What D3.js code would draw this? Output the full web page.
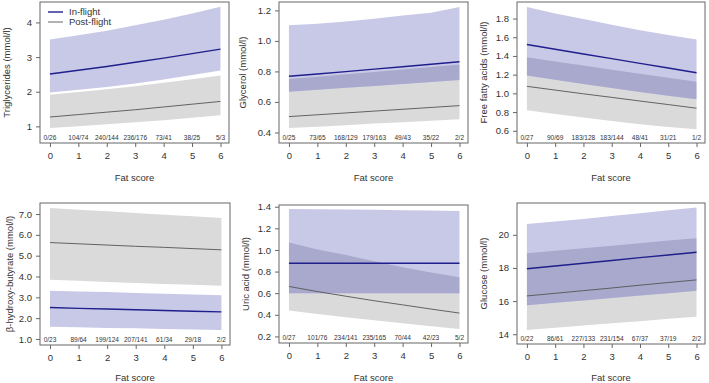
<!DOCTYPE html>
<html>
<head>
<meta charset="utf-8">
<script src="https://cdn.jsdelivr.net/npm/d3@7"></script>
<style>
  body { margin: 0; background: #fff; }
  text { font-family: "Liberation Sans", Arial, sans-serif; fill: #333; }
</style>
</head>
<body>
<svg id="chart"></svg>
<script>
// Six panels: metabolite vs fat score, in-flight vs post-flight, with CI bands

const chartWidth = 709;
const chartHeight = 383;

const fatScores = [0, 1, 2, 3, 4, 5, 6];
const seriesNames = ["In-flight", "Post-flight"];

// Triglycerides
const trigInMean = [2.51, 2.62, 2.73, 2.85, 2.97, 3.10, 3.23];
const trigInUpper = [3.51, 3.63, 3.76, 3.92, 4.08, 4.26, 4.45];
const trigInLower = [1.98, 2.06, 2.14, 2.24, 2.35, 2.48, 2.61];
const trigPostMean = [1.27, 1.34, 1.41, 1.48, 1.56, 1.64, 1.72];
const trigPostUpper = [1.91, 1.99, 2.07, 2.16, 2.26, 2.36, 2.47];
const trigPostLower = [0.95, 1.00, 1.06, 1.12, 1.18, 1.25, 1.32];
const trigCounts = ["0/26", "104/74", "240/144", "236/176", "73/41", "38/25", "5/3"];

// Glycerol
const glyInMean = [0.768, 0.783, 0.799, 0.815, 0.831, 0.847, 0.863];
const glyInUpper = [1.102, 1.113, 1.128, 1.146, 1.167, 1.185, 1.222];
const glyInLower = [0.667, 0.680, 0.693, 0.705, 0.718, 0.731, 0.744];
const glyPostMean = [0.504, 0.516, 0.528, 0.540, 0.552, 0.564, 0.576];
const glyPostUpper = [0.750, 0.765, 0.781, 0.797, 0.813, 0.829, 0.846];
const glyPostLower = [0.429, 0.438, 0.448, 0.458, 0.467, 0.477, 0.487];
const glyCounts = ["0/25", "73/65", "168/129", "179/163", "49/43", "35/22", "2/2"];

// Free fatty acids
const ffaInMean = [1.523, 1.472, 1.421, 1.371, 1.321, 1.271, 1.221];
const ffaInUpper = [1.924, 1.855, 1.795, 1.735, 1.675, 1.625, 1.576];
const ffaInLower = [1.190, 1.145, 1.100, 1.057, 1.015, 0.975, 0.937];
const ffaPostMean = [1.075, 1.035, 0.995, 0.957, 0.918, 0.880, 0.841];
const ffaPostUpper = [1.385, 1.340, 1.297, 1.253, 1.210, 1.167, 1.125];
const ffaPostLower = [0.820, 0.780, 0.742, 0.705, 0.670, 0.640, 0.615];
const ffaCounts = ["0/27", "90/69", "183/128", "183/144", "48/41", "31/21", "1/2"];

// beta-hydroxy-butyrate
const bhbInMean = [2.51, 2.47, 2.44, 2.40, 2.37, 2.33, 2.30];
const bhbInUpper = [3.32, 3.28, 3.25, 3.21, 3.17, 3.13, 3.10];
const bhbInLower = [1.59, 1.56, 1.53, 1.51, 1.48, 1.46, 1.43];
const bhbPostMean = [5.63, 5.57, 5.51, 5.45, 5.40, 5.34, 5.28];
const bhbPostUpper = [7.29, 7.21, 7.13, 7.05, 6.97, 6.89, 6.81];
const bhbPostLower = [3.84, 3.79, 3.74, 3.69, 3.64, 3.60, 3.55];
const bhbCounts = ["0/23", "89/64", "199/124", "207/141", "61/34", "29/18", "2/2"];

// Uric acid
const uricInMean = [0.877, 0.877, 0.877, 0.877, 0.877, 0.877, 0.877];
const uricInUpper = [1.379, 1.377, 1.374, 1.371, 1.368, 1.364, 1.360];
const uricInLower = [0.600, 0.600, 0.600, 0.600, 0.600, 0.600, 0.600];
const uricPostMean = [0.662, 0.615, 0.572, 0.530, 0.492, 0.453, 0.416];
const uricPostUpper = [1.068, 1.005, 0.954, 0.895, 0.840, 0.792, 0.748];
const uricPostLower = [0.440, 0.408, 0.378, 0.350, 0.322, 0.295, 0.268];
const uricCounts = ["0/27", "101/76", "234/141", "235/165", "70/44", "42/23", "5/2"];

// Glucose
const gluInMean = [17.95, 18.12, 18.28, 18.45, 18.62, 18.78, 18.95];
const gluInUpper = [20.65, 20.80, 20.96, 21.13, 21.30, 21.48, 21.65];
const gluInLower = [15.75, 15.90, 16.04, 16.18, 16.33, 16.48, 16.62];
const gluPostMean = [16.31, 16.47, 16.63, 16.79, 16.96, 17.12, 17.28];
const gluPostUpper = [18.89, 19.04, 19.19, 19.34, 19.49, 19.65, 19.80];
const gluPostLower = [14.26, 14.39, 14.52, 14.66, 14.79, 14.93, 15.06];
const gluCounts = ["0/22", "86/61", "227/133", "231/154", "67/37", "37/19", "2/2"];

const panels = [
    { label: "Triglycerides (mmol/l)", box: [40, 229, 2, 143], yDomain: [0.52, 4.59], yTicks: [1, 2, 3, 4], fmt: "d", labelOff: 33,
      inMean: trigInMean, inUpper: trigInUpper, inLower: trigInLower, postMean: trigPostMean, postUpper: trigPostUpper, postLower: trigPostLower, counts: trigCounts, legend: true },
    { label: "Glycerol (mmol/l)", box: [279, 468, 2, 143], yDomain: [0.331, 1.255], yTicks: [0.4, 0.6, 0.8, 1.0, 1.2], fmt: ".1f", labelOff: 36,
      inMean: glyInMean, inUpper: glyInUpper, inLower: glyInLower, postMean: glyPostMean, postUpper: glyPostUpper, postLower: glyPostLower, counts: glyCounts },
    { label: "Free fatty acids (mmol/l)", box: [517, 705, 2, 143], yDomain: [0.469, 1.977], yTicks: [0.6, 0.8, 1.0, 1.2, 1.4, 1.6, 1.8], fmt: ".1f", labelOff: 33,
      inMean: ffaInMean, inUpper: ffaInUpper, inLower: ffaInLower, postMean: ffaPostMean, postUpper: ffaPostUpper, postLower: ffaPostLower, counts: ffaCounts },
    { label: "β-hydroxy-butyrate (mmol/l)", box: [40, 230, 203, 345], yDomain: [0.71, 7.53], yTicks: [1, 2, 3, 4, 5, 6, 7], fmt: ".1f", labelOff: 30,
      inMean: bhbInMean, inUpper: bhbInUpper, inLower: bhbInLower, postMean: bhbPostMean, postUpper: bhbPostUpper, postLower: bhbPostLower, counts: bhbCounts },
    { label: "Uric acid (mmol/l)", box: [279, 468, 205, 343], yDomain: [0.139, 1.416], yTicks: [0.2, 0.4, 0.6, 0.8, 1.0, 1.2, 1.4], fmt: ".1f", labelOff: 33,
      inMean: uricInMean, inUpper: uricInUpper, inLower: uricInLower, postMean: uricPostMean, postUpper: uricPostUpper, postLower: uricPostLower, counts: uricCounts },
    { label: "Glucose (mmol/l)", box: [517, 705, 203, 344], yDomain: [13.41, 21.92], yTicks: [14, 16, 18, 20], fmt: "d", labelOff: 33,
      inMean: gluInMean, inUpper: gluInUpper, inLower: gluInLower, postMean: gluPostMean, postUpper: gluPostUpper, postLower: gluPostLower, counts: gluCounts }
];

const inBand = "#c8c8e7";
const overlapBand = "#a9a9cd";
const postBand = "#dadada";
const inLine = "#1f1f8c";
const postLine = "#555555";
const axisColor = "#666";

const svg = d3.select("#chart")
    .attr("width", chartWidth)
    .attr("height", chartHeight);

panels.forEach((p, i) => {
    const [x0, x1, y0, y1] = p.box;
    const x = d3.scaleLinear().domain([-0.35, 6.3]).range([x0, x1]);
    const y = d3.scaleLinear().domain(p.yDomain).range([y1, y0]);

    const g = svg.append("g");

    const band = (lo, hi) => d3.area()
        .x((d, j) => x(fatScores[j]))
        .y0((d, j) => y(lo[j]))
        .y1((d, j) => y(hi[j]));
    const line = vals => d3.line()
        .x((d, j) => x(fatScores[j]))
        .y((d, j) => y(vals[j]));

    // grey (post-flight) band
    g.append("path").datum(fatScores)
        .attr("fill", postBand)
        .attr("d", band(p.postLower, p.postUpper));

    // blue (in-flight) band
    g.append("path").datum(fatScores)
        .attr("fill", inBand)
        .attr("d", band(p.inLower, p.inUpper));

    // overlap: blue band clipped by grey band
    const clipId = "clip" + i;
    g.append("clipPath").attr("id", clipId)
        .append("path").datum(fatScores)
        .attr("d", band(p.postLower, p.postUpper));
    g.append("path").datum(fatScores)
        .attr("clip-path", `url(#${clipId})`)
        .attr("fill", overlapBand)
        .attr("d", band(p.inLower, p.inUpper));

    g.append("path").datum(fatScores)
        .attr("fill", "none")
        .attr("stroke", postLine)
        .attr("stroke-width", 0.9)
        .attr("d", line(p.postMean));

    g.append("path").datum(fatScores)
        .attr("fill", "none")
        .attr("stroke", inLine)
        .attr("stroke-width", 1.4)
        .attr("d", line(p.inMean));

    // frame
    g.append("rect")
        .attr("x", x0).attr("y", y0)
        .attr("width", x1 - x0).attr("height", y1 - y0)
        .attr("fill", "none")
        .attr("stroke", axisColor)
        .attr("stroke-width", 1);

    // counts along bottom
    g.selectAll(".count")
        .data(p.counts)
        .join("text")
        .attr("class", "count")
        .attr("transform", (d, j) => `translate(${x(fatScores[j])}, ${y1 - 3}) scale(0.82, 1)`)
        .attr("text-anchor", "middle")
        .attr("font-size", "8px")
        .text(d => d);

    // axes
    const xAxis = d3.axisBottom(x).tickValues(fatScores).tickSize(4).tickPadding(5).tickFormat(d3.format("d"));
    const xg = g.append("g")
        .attr("transform", `translate(0, ${y1})`)
        .call(xAxis);
    xg.select(".domain").remove();
    xg.selectAll("line").attr("stroke", axisColor);
    xg.selectAll("text").attr("font-size", "9.5px").attr("fill", "#333")
        .attr("font-family", "Liberation Sans, Arial, sans-serif");

    const yAxis = d3.axisLeft(y).tickValues(p.yTicks).tickSize(4).tickPadding(4).tickFormat(d3.format(p.fmt));
    const yg = g.append("g")
        .attr("transform", `translate(${x0}, 0)`)
        .call(yAxis);
    yg.select(".domain").remove();
    yg.selectAll("line").attr("stroke", axisColor);
    yg.selectAll("text").attr("font-size", "9.5px").attr("fill", "#333")
        .attr("font-family", "Liberation Sans, Arial, sans-serif");

    g.append("text")
        .attr("x", (x0 + x1) / 2)
        .attr("y", Math.min(y1 + 38, chartHeight - 2.5))
        .attr("text-anchor", "middle")
        .attr("font-size", "9.5px")
        .text("Fat score");

    g.append("text")
        .attr("transform", `translate(${x0 - p.labelOff}, ${(y0 + y1) / 2}) rotate(-90)`)
        .attr("text-anchor", "middle")
        .attr("dominant-baseline", "middle")
        .attr("font-size", "9.5px")
        .text(p.label);

    if (p.legend) {
        const lg = g.append("g");
        seriesNames.forEach((name, k) => {
            const ly = y0 + 10 + k * 10;
            lg.append("line")
                .attr("x1", x0 + 8).attr("x2", x0 + 23)
                .attr("y1", ly).attr("y2", ly)
                .attr("stroke", k === 0 ? inLine : postLine)
                .attr("stroke-width", k === 0 ? 1.4 : 0.9);
            lg.append("text")
                .attr("x", x0 + 29).attr("y", ly + 3.3)
                .attr("font-size", "9.5px")
                .text(name);
        });
    }
});
</script>
</body>
</html>
